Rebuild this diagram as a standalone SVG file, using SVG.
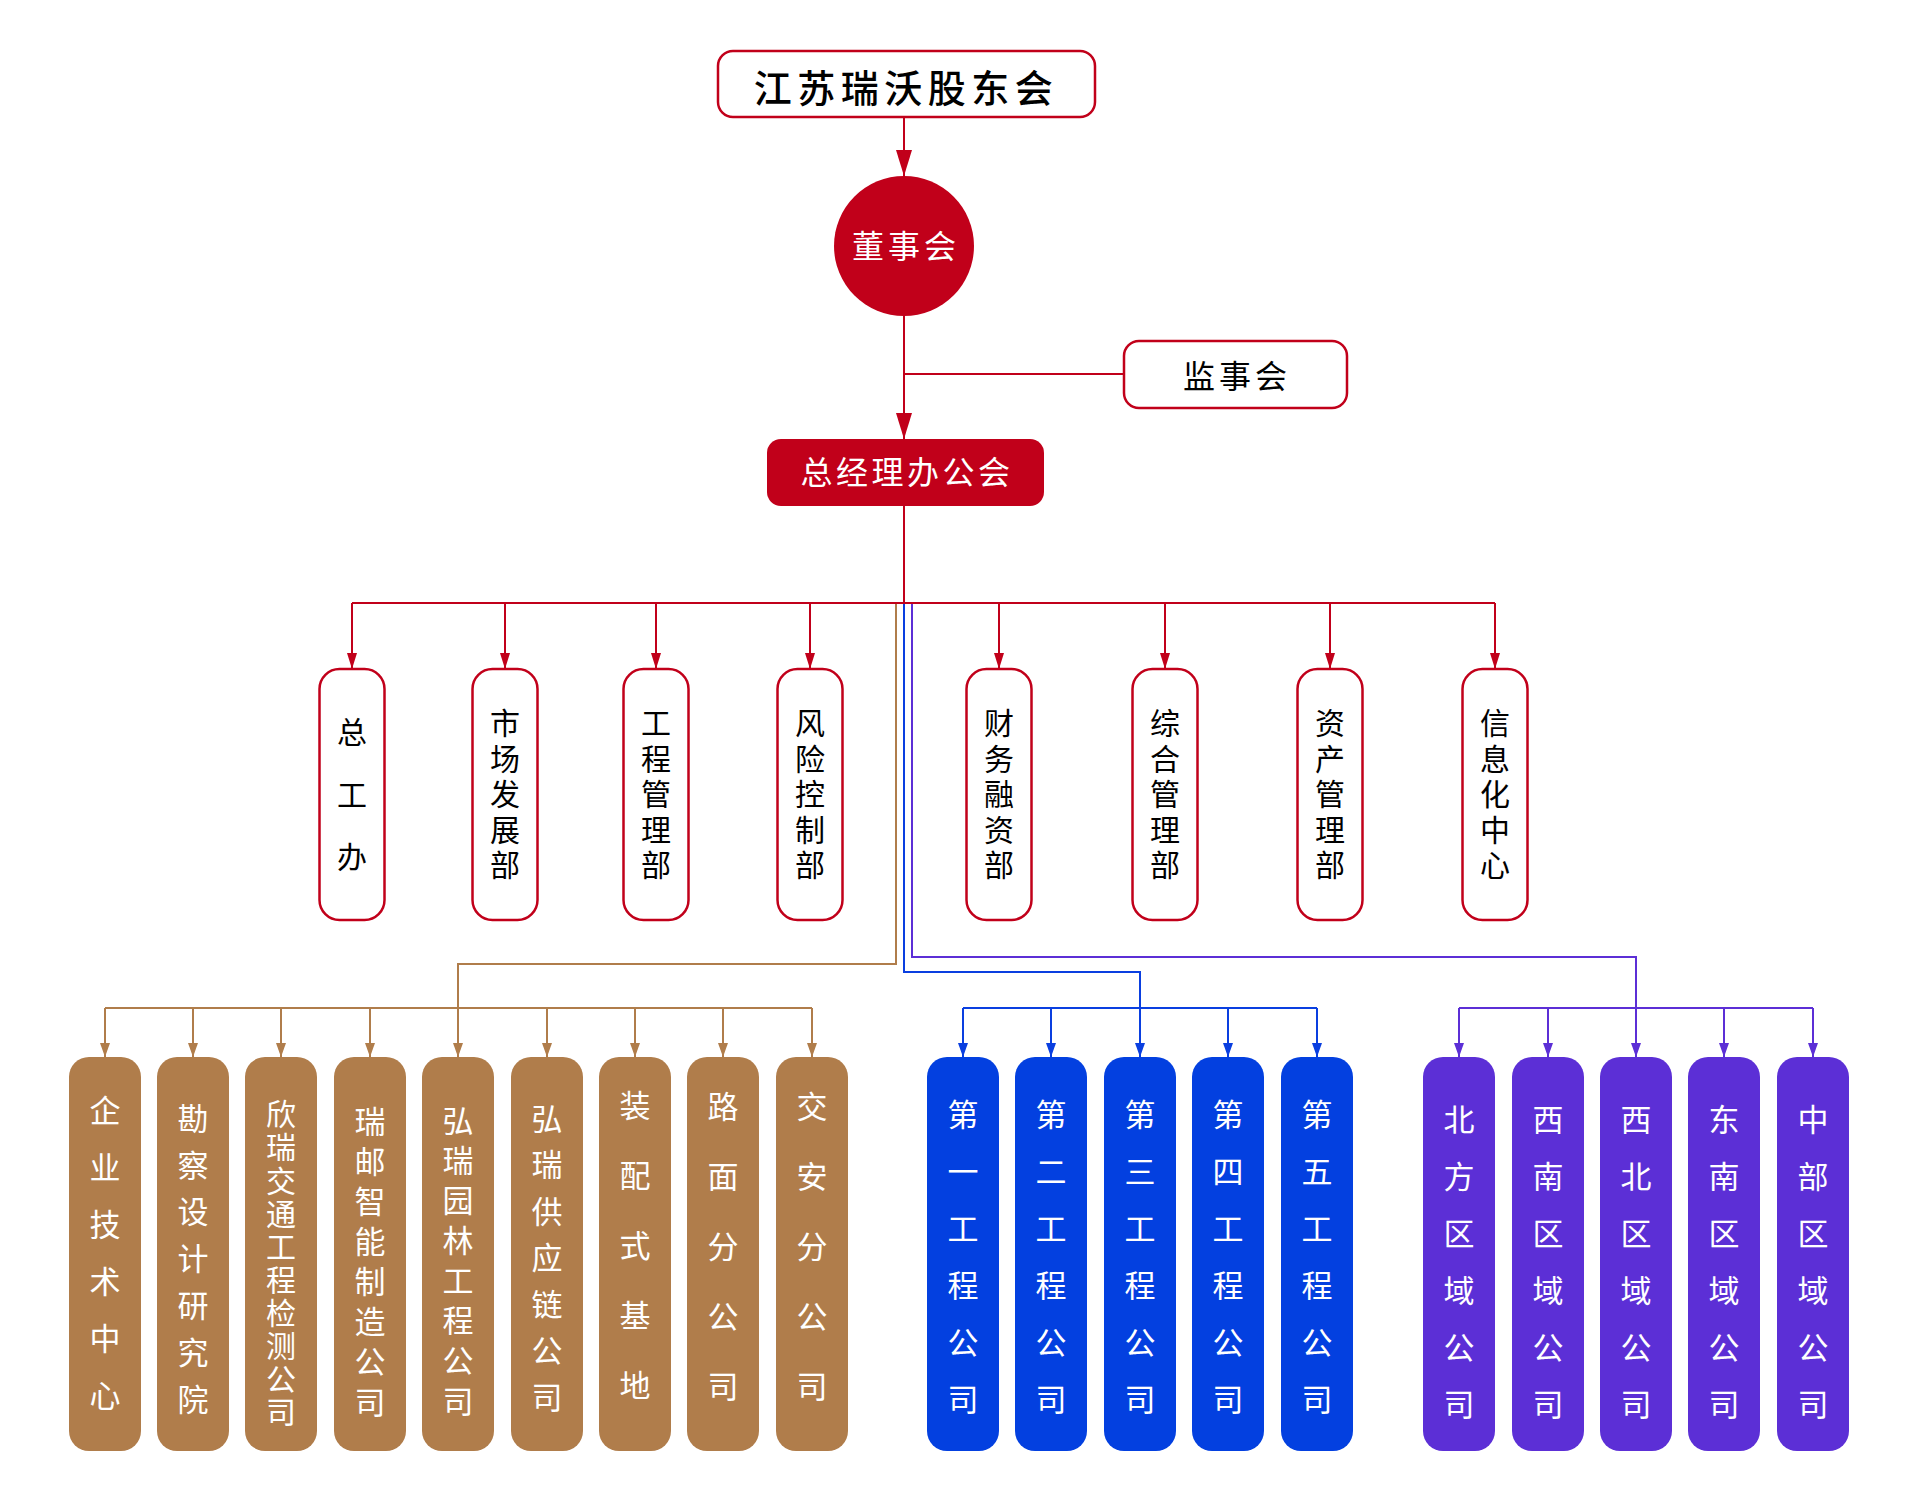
<svg xmlns="http://www.w3.org/2000/svg" width="1920" height="1508" viewBox="0 0 1920 1508">
<style>
text{font-family:"Noto Sans CJK SC","Noto Sans",sans-serif;text-anchor:middle;dominant-baseline:central}
.rline{fill:none;stroke:#C1001A;stroke-width:2}
.bline{fill:none;stroke:#B07D4B;stroke-width:2}
.uline{fill:none;stroke:#0A3FE0;stroke-width:2}
.pline{fill:none;stroke:#5C2FD6;stroke-width:2}
.dept{fill:#fff;stroke:#C1001A;stroke-width:2.5}
.v{writing-mode:vertical-rl}
.dt{font-size:30px;fill:#000}
.wt{font-size:31px;fill:#fff}
.brown{fill:#B07D4B}
.blue{fill:#0340E0}
.purple{fill:#5C2FD6}
</style>
<defs>
<marker id="aL" markerUnits="userSpaceOnUse" markerWidth="26" markerHeight="16" refX="26" refY="8" orient="auto"><path d="M0,0 L26,8 L0,16 z" fill="#C1001A"/></marker>
<marker id="aR" markerUnits="userSpaceOnUse" markerWidth="16" markerHeight="10" refX="16" refY="5" orient="auto"><path d="M0,0 L16,5 L0,10 z" fill="#C1001A"/></marker>
<marker id="aB" markerUnits="userSpaceOnUse" markerWidth="14" markerHeight="10" refX="14" refY="5" orient="auto"><path d="M0,0 L14,5 L0,10 z" fill="#B07D4B"/></marker>
<marker id="aU" markerUnits="userSpaceOnUse" markerWidth="14" markerHeight="10" refX="14" refY="5" orient="auto"><path d="M0,0 L14,5 L0,10 z" fill="#0A3FE0"/></marker>
<marker id="aP" markerUnits="userSpaceOnUse" markerWidth="14" markerHeight="10" refX="14" refY="5" orient="auto"><path d="M0,0 L14,5 L0,10 z" fill="#5C2FD6"/></marker>
</defs>
<rect width="1920" height="1508" fill="#fff"/>

<g id="connectors">
<path class="rline" d="M904,117 V176" marker-end="url(#aL)"/>
<path class="rline" d="M904,316 V439" marker-end="url(#aL)"/>
<path class="rline" d="M904,374 H1124"/>
<path class="rline" d="M904,506 V603"/>
<path class="rline" d="M352,603 H1495"/>
<path class="rline" d="M352,603 V669" marker-end="url(#aR)"/>
<path class="rline" d="M505,603 V669" marker-end="url(#aR)"/>
<path class="rline" d="M656,603 V669" marker-end="url(#aR)"/>
<path class="rline" d="M810,603 V669" marker-end="url(#aR)"/>
<path class="rline" d="M999,603 V669" marker-end="url(#aR)"/>
<path class="rline" d="M1165,603 V669" marker-end="url(#aR)"/>
<path class="rline" d="M1330,603 V669" marker-end="url(#aR)"/>
<path class="rline" d="M1495,603 V669" marker-end="url(#aR)"/>

<path class="bline" d="M896,604 V964 H458 V1057" marker-end="url(#aB)"/>
<path class="bline" d="M105,1008 H812"/>
<path class="bline" d="M105,1008 V1057" marker-end="url(#aB)"/>
<path class="bline" d="M193,1008 V1057" marker-end="url(#aB)"/>
<path class="bline" d="M281,1008 V1057" marker-end="url(#aB)"/>
<path class="bline" d="M370,1008 V1057" marker-end="url(#aB)"/>
<path class="bline" d="M547,1008 V1057" marker-end="url(#aB)"/>
<path class="bline" d="M635,1008 V1057" marker-end="url(#aB)"/>
<path class="bline" d="M723,1008 V1057" marker-end="url(#aB)"/>
<path class="bline" d="M812,1008 V1057" marker-end="url(#aB)"/>

<path class="uline" d="M904,604 V972 H1140 V1057" marker-end="url(#aU)"/>
<path class="uline" d="M963,1008 H1317"/>
<path class="uline" d="M963,1008 V1057" marker-end="url(#aU)"/>
<path class="uline" d="M1051,1008 V1057" marker-end="url(#aU)"/>
<path class="uline" d="M1228,1008 V1057" marker-end="url(#aU)"/>
<path class="uline" d="M1317,1008 V1057" marker-end="url(#aU)"/>

<path class="pline" d="M912,604 V957 H1636 V1057" marker-end="url(#aP)"/>
<path class="pline" d="M1459,1008 H1813"/>
<path class="pline" d="M1459,1008 V1057" marker-end="url(#aP)"/>
<path class="pline" d="M1548,1008 V1057" marker-end="url(#aP)"/>
<path class="pline" d="M1724,1008 V1057" marker-end="url(#aP)"/>
<path class="pline" d="M1813,1008 V1057" marker-end="url(#aP)"/>
</g>

<g id="shareholders">
<rect x="718" y="51" width="377" height="66" rx="15" fill="#fff" stroke="#C1001A" stroke-width="2.5"/>
<text x="906" y="85" font-size="38" fill="#000" letter-spacing="5.5" font-weight="500">江苏瑞沃股东会</text>
</g>
<g id="board">
<circle cx="904" cy="246" r="70" fill="#C1001A"/>
<text x="906" y="244" font-size="32" fill="#fff" letter-spacing="4">董事会</text>
</g>
<g id="supervisors">
<rect x="1124" y="341" width="223" height="67" rx="15" fill="#fff" stroke="#C1001A" stroke-width="2.5"/>
<text x="1237" y="374" font-size="32" fill="#000" letter-spacing="4">监事会</text>
</g>
<g id="gm">
<rect x="767" y="439" width="277" height="67" rx="14" fill="#C1001A"/>
<text x="907" y="470" font-size="32" fill="#fff" letter-spacing="3.5">总经理办公会</text>
</g>

<g id="d1"><rect class="dept" x="319.5" y="669" width="65" height="251" rx="20"/>
<text class="dt v" x="352" y="810.75" letter-spacing="32.5">总工办</text></g>
<g id="d2"><rect class="dept" x="472.5" y="669" width="65" height="251" rx="20"/>
<text class="dt v" x="505" y="796.75" letter-spacing="5.5">市场发展部</text></g>
<g id="d3"><rect class="dept" x="623.5" y="669" width="65" height="251" rx="20"/>
<text class="dt v" x="656" y="796.75" letter-spacing="5.5">工程管理部</text></g>
<g id="d4"><rect class="dept" x="777.5" y="669" width="65" height="251" rx="20"/>
<text class="dt v" x="810" y="796.75" letter-spacing="5.5">风险控制部</text></g>
<g id="d5"><rect class="dept" x="966.5" y="669" width="65" height="251" rx="20"/>
<text class="dt v" x="999" y="796.75" letter-spacing="5.5">财务融资部</text></g>
<g id="d6"><rect class="dept" x="1132.5" y="669" width="65" height="251" rx="20"/>
<text class="dt v" x="1165" y="796.75" letter-spacing="5.5">综合管理部</text></g>
<g id="d7"><rect class="dept" x="1297.5" y="669" width="65" height="251" rx="20"/>
<text class="dt v" x="1330" y="796.75" letter-spacing="5.5">资产管理部</text></g>
<g id="d8"><rect class="dept" x="1462.5" y="669" width="65" height="251" rx="20"/>
<text class="dt v" x="1495" y="796.75" letter-spacing="5.5">信息化中心</text></g>

<g id="b1"><rect class="brown" x="69" y="1057" width="72" height="394" rx="20"/>
<text class="wt v" x="105" y="1266" letter-spacing="26">企业技术中心</text></g>
<g id="b2"><rect class="brown" x="157" y="1057" width="72" height="394" rx="20"/>
<text class="wt v" x="193" y="1266.4" letter-spacing="15.8">勘察设计研究院</text></g>
<g id="b3"><rect class="brown" x="245" y="1057" width="72" height="394" rx="20"/>
<text class="v" x="281" y="1264.5" font-size="30" fill="#fff" letter-spacing="3.1">欣瑞交通工程检测公司</text></g>
<g id="b4"><rect class="brown" x="334" y="1057" width="72" height="394" rx="20"/>
<text class="wt v" x="370" y="1266" letter-spacing="9.1">瑞邮智能制造公司</text></g>
<g id="b5"><rect class="brown" x="422" y="1057" width="72" height="394" rx="20"/>
<text class="wt v" x="458" y="1265" letter-spacing="9.1">弘瑞园林工程公司</text></g>
<g id="b6"><rect class="brown" x="511" y="1057" width="72" height="394" rx="20"/>
<text class="wt v" x="547" y="1265.3" letter-spacing="15.5">弘瑞供应链公司</text></g>
<g id="b7"><rect class="brown" x="599" y="1057" width="72" height="394" rx="20"/>
<text class="wt v" x="635" y="1265.2" letter-spacing="39">装配式基地</text></g>
<g id="b8"><rect class="brown" x="687" y="1057" width="72" height="394" rx="20"/>
<text class="wt v" x="723" y="1266" letter-spacing="39">路面分公司</text></g>
<g id="b9"><rect class="brown" x="776" y="1057" width="72" height="394" rx="20"/>
<text class="wt v" x="812" y="1266" letter-spacing="39">交安分公司</text></g>

<g id="u1"><rect class="blue" x="927" y="1057" width="72" height="394" rx="20"/>
<text class="wt v" x="963" y="1269.5" letter-spacing="26">第一工程公司</text></g>
<g id="u2"><rect class="blue" x="1015" y="1057" width="72" height="394" rx="20"/>
<text class="wt v" x="1051" y="1269.5" letter-spacing="26">第二工程公司</text></g>
<g id="u3"><rect class="blue" x="1104" y="1057" width="72" height="394" rx="20"/>
<text class="wt v" x="1140" y="1269.5" letter-spacing="26">第三工程公司</text></g>
<g id="u4"><rect class="blue" x="1192" y="1057" width="72" height="394" rx="20"/>
<text class="wt v" x="1228" y="1269.5" letter-spacing="26">第四工程公司</text></g>
<g id="u5"><rect class="blue" x="1281" y="1057" width="72" height="394" rx="20"/>
<text class="wt v" x="1317" y="1269.5" letter-spacing="26">第五工程公司</text></g>

<g id="p1"><rect class="purple" x="1423" y="1057" width="72" height="394" rx="20"/>
<text class="wt v" x="1459" y="1274.5" letter-spacing="26">北方区域公司</text></g>
<g id="p2"><rect class="purple" x="1512" y="1057" width="72" height="394" rx="20"/>
<text class="wt v" x="1548" y="1274.5" letter-spacing="26">西南区域公司</text></g>
<g id="p3"><rect class="purple" x="1600" y="1057" width="72" height="394" rx="20"/>
<text class="wt v" x="1636" y="1274.5" letter-spacing="26">西北区域公司</text></g>
<g id="p4"><rect class="purple" x="1688" y="1057" width="72" height="394" rx="20"/>
<text class="wt v" x="1724" y="1274.5" letter-spacing="26">东南区域公司</text></g>
<g id="p5"><rect class="purple" x="1777" y="1057" width="72" height="394" rx="20"/>
<text class="wt v" x="1813" y="1274.5" letter-spacing="26">中部区域公司</text></g>
</svg>
